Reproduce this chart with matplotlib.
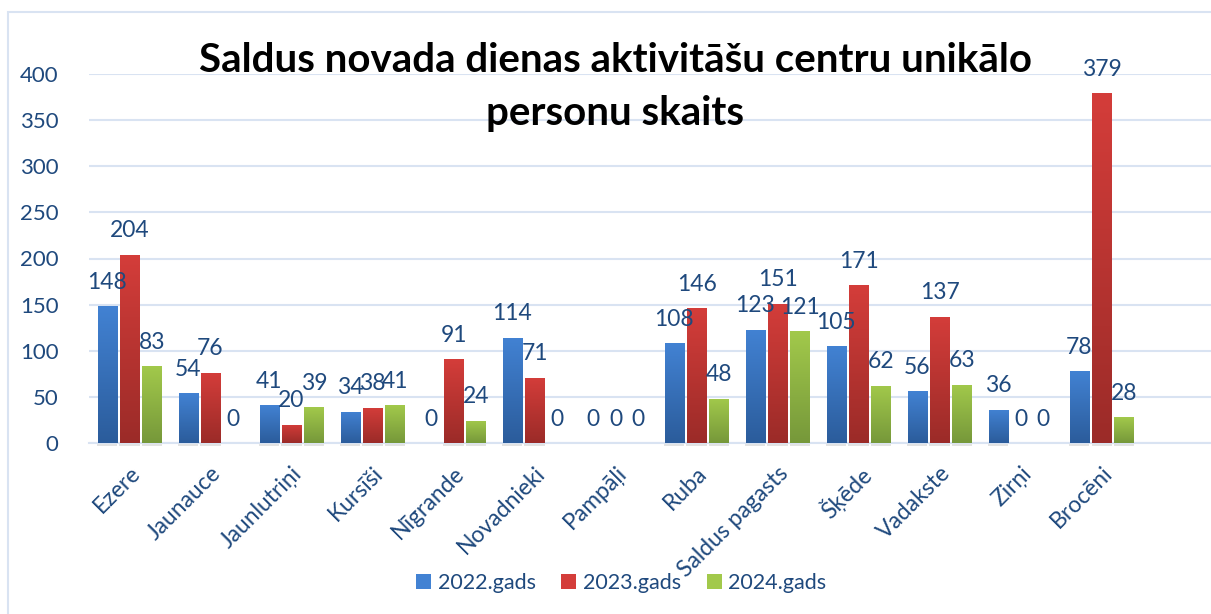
import numpy as np
import matplotlib
matplotlib.use('Agg')
import matplotlib.pyplot as plt
from matplotlib.patches import Rectangle
from matplotlib.colors import LinearSegmentedColormap

# data
categories = ['Ezere', 'Jaunauce', 'Jaunlutriņi', 'Kursīši', 'Nīgrande', 'Novadnieki',
              'Pampāļi', 'Ruba', 'Saldus pagasts', 'Šķēde', 'Vadakste', 'Zirņi', 'Brocēni']
vals_2022 = [148, 54, 41, 34, 0, 114, 0, 108, 123, 105, 56, 36, 78]
vals_2023 = [204, 76, 20, 38, 91, 71, 0, 146, 151, 171, 137, 0, 379]
vals_2024 = [83, 0, 39, 41, 24, 0, 0, 48, 121, 62, 63, 0, 28]
series_names = ['2022.gads', '2023.gads', '2024.gads']

title = 'Saldus novada dienas aktivitāšu centru unikālo\npersonu skaits'

txt_col = '#1F497D'
grid_col = '#D9E3F2'
# (top colour, bottom colour) for the Excel-like gradient
grads = [('#4282D3', '#2B5C9B'), ('#D43D3A', '#9B2B28'), ('#A2C94B', '#76983A')]

plt.rcParams['font.family'] = ['Lato', 'DejaVu Sans']

fig = plt.figure(figsize=(12.11, 6.14), dpi=100)
ax = fig.add_axes([89 / 1211, 1 - 443 / 614, 1 - 89 / 1211, (443 - 74) / 614])

x = np.arange(len(categories))
offsets = [-0.275, 0, 0.275]
width = 0.24
allvals = [vals_2022, vals_2023, vals_2024]

ax.set_xlim(-0.5, 13.35)
ax.set_ylim(0, 400)

for vals, off, (c_top, c_bot), name in zip(allvals, offsets, grads, series_names):
    bars = ax.bar(x + off, vals, width, color=c_top, label=name, zorder=2)
    cmap = LinearSegmentedColormap.from_list('g', [c_bot, c_top])
    grad = np.linspace(0, 1, 256).reshape(-1, 1)
    for b, v in zip(bars, vals):
        if v > 0:
            # light shadow under the bar
            ax.add_patch(Rectangle((b.get_x() - 0.005, -3), b.get_width() + 0.01, 3,
                                   color='#C8C8C8', alpha=0.5, zorder=1, clip_on=False, lw=0))
            im = ax.imshow(grad, extent=[b.get_x(), b.get_x() + b.get_width(), 0, v],
                           origin='lower', aspect='auto', cmap=cmap, zorder=3)
            im.set_clip_path(b)
        ax.text(b.get_x() + b.get_width() / 2, v + 26, str(v), ha='center', va='center',
                fontsize=16.5, color=txt_col, zorder=4)

ax.set_xlim(-0.5, 13.35)
ax.set_ylim(0, 400)
ax.set_yticks(range(0, 401, 50))
ax.yaxis.grid(True, color=grid_col, linewidth=1.5, zorder=0)
ax.set_axisbelow(True)
for s in ['top', 'right', 'left']:
    ax.spines[s].set_visible(False)
ax.spines['bottom'].set_color(grid_col)
ax.spines['bottom'].set_linewidth(1.5)
ax.tick_params(axis='both', length=0, colors=txt_col, labelsize=16)
ax.tick_params(axis='y', pad=22)
ax.set_xticks(x)
ax.set_xticklabels(categories, rotation=45, ha='right', rotation_mode='anchor')
ax.tick_params(axis='x', pad=14, labelsize=16.5)

fig.text(0.508, 1 - 87 / 614, title, ha='center', va='center', fontsize=29,
         fontweight='bold', color='black', linespacing=1.5)

handles, labels = ax.get_legend_handles_labels()
fig.legend(handles, labels, loc='center', bbox_to_anchor=(0.513, 1 - 583 / 614), ncol=3,
           frameon=False, fontsize=15.5, labelcolor=txt_col, handlelength=0.7,
           handleheight=0.7, handletextpad=0.3, columnspacing=1.2)

# outer chart border
fig.patches.append(Rectangle((8 / 1211, -0.1), 1.2, 1 - 12 / 614 + 0.1, transform=fig.transFigure,
                             fill=False, edgecolor=grid_col, linewidth=1.5, figure=fig))

fig.savefig('out.png', dpi=100, facecolor='white')
